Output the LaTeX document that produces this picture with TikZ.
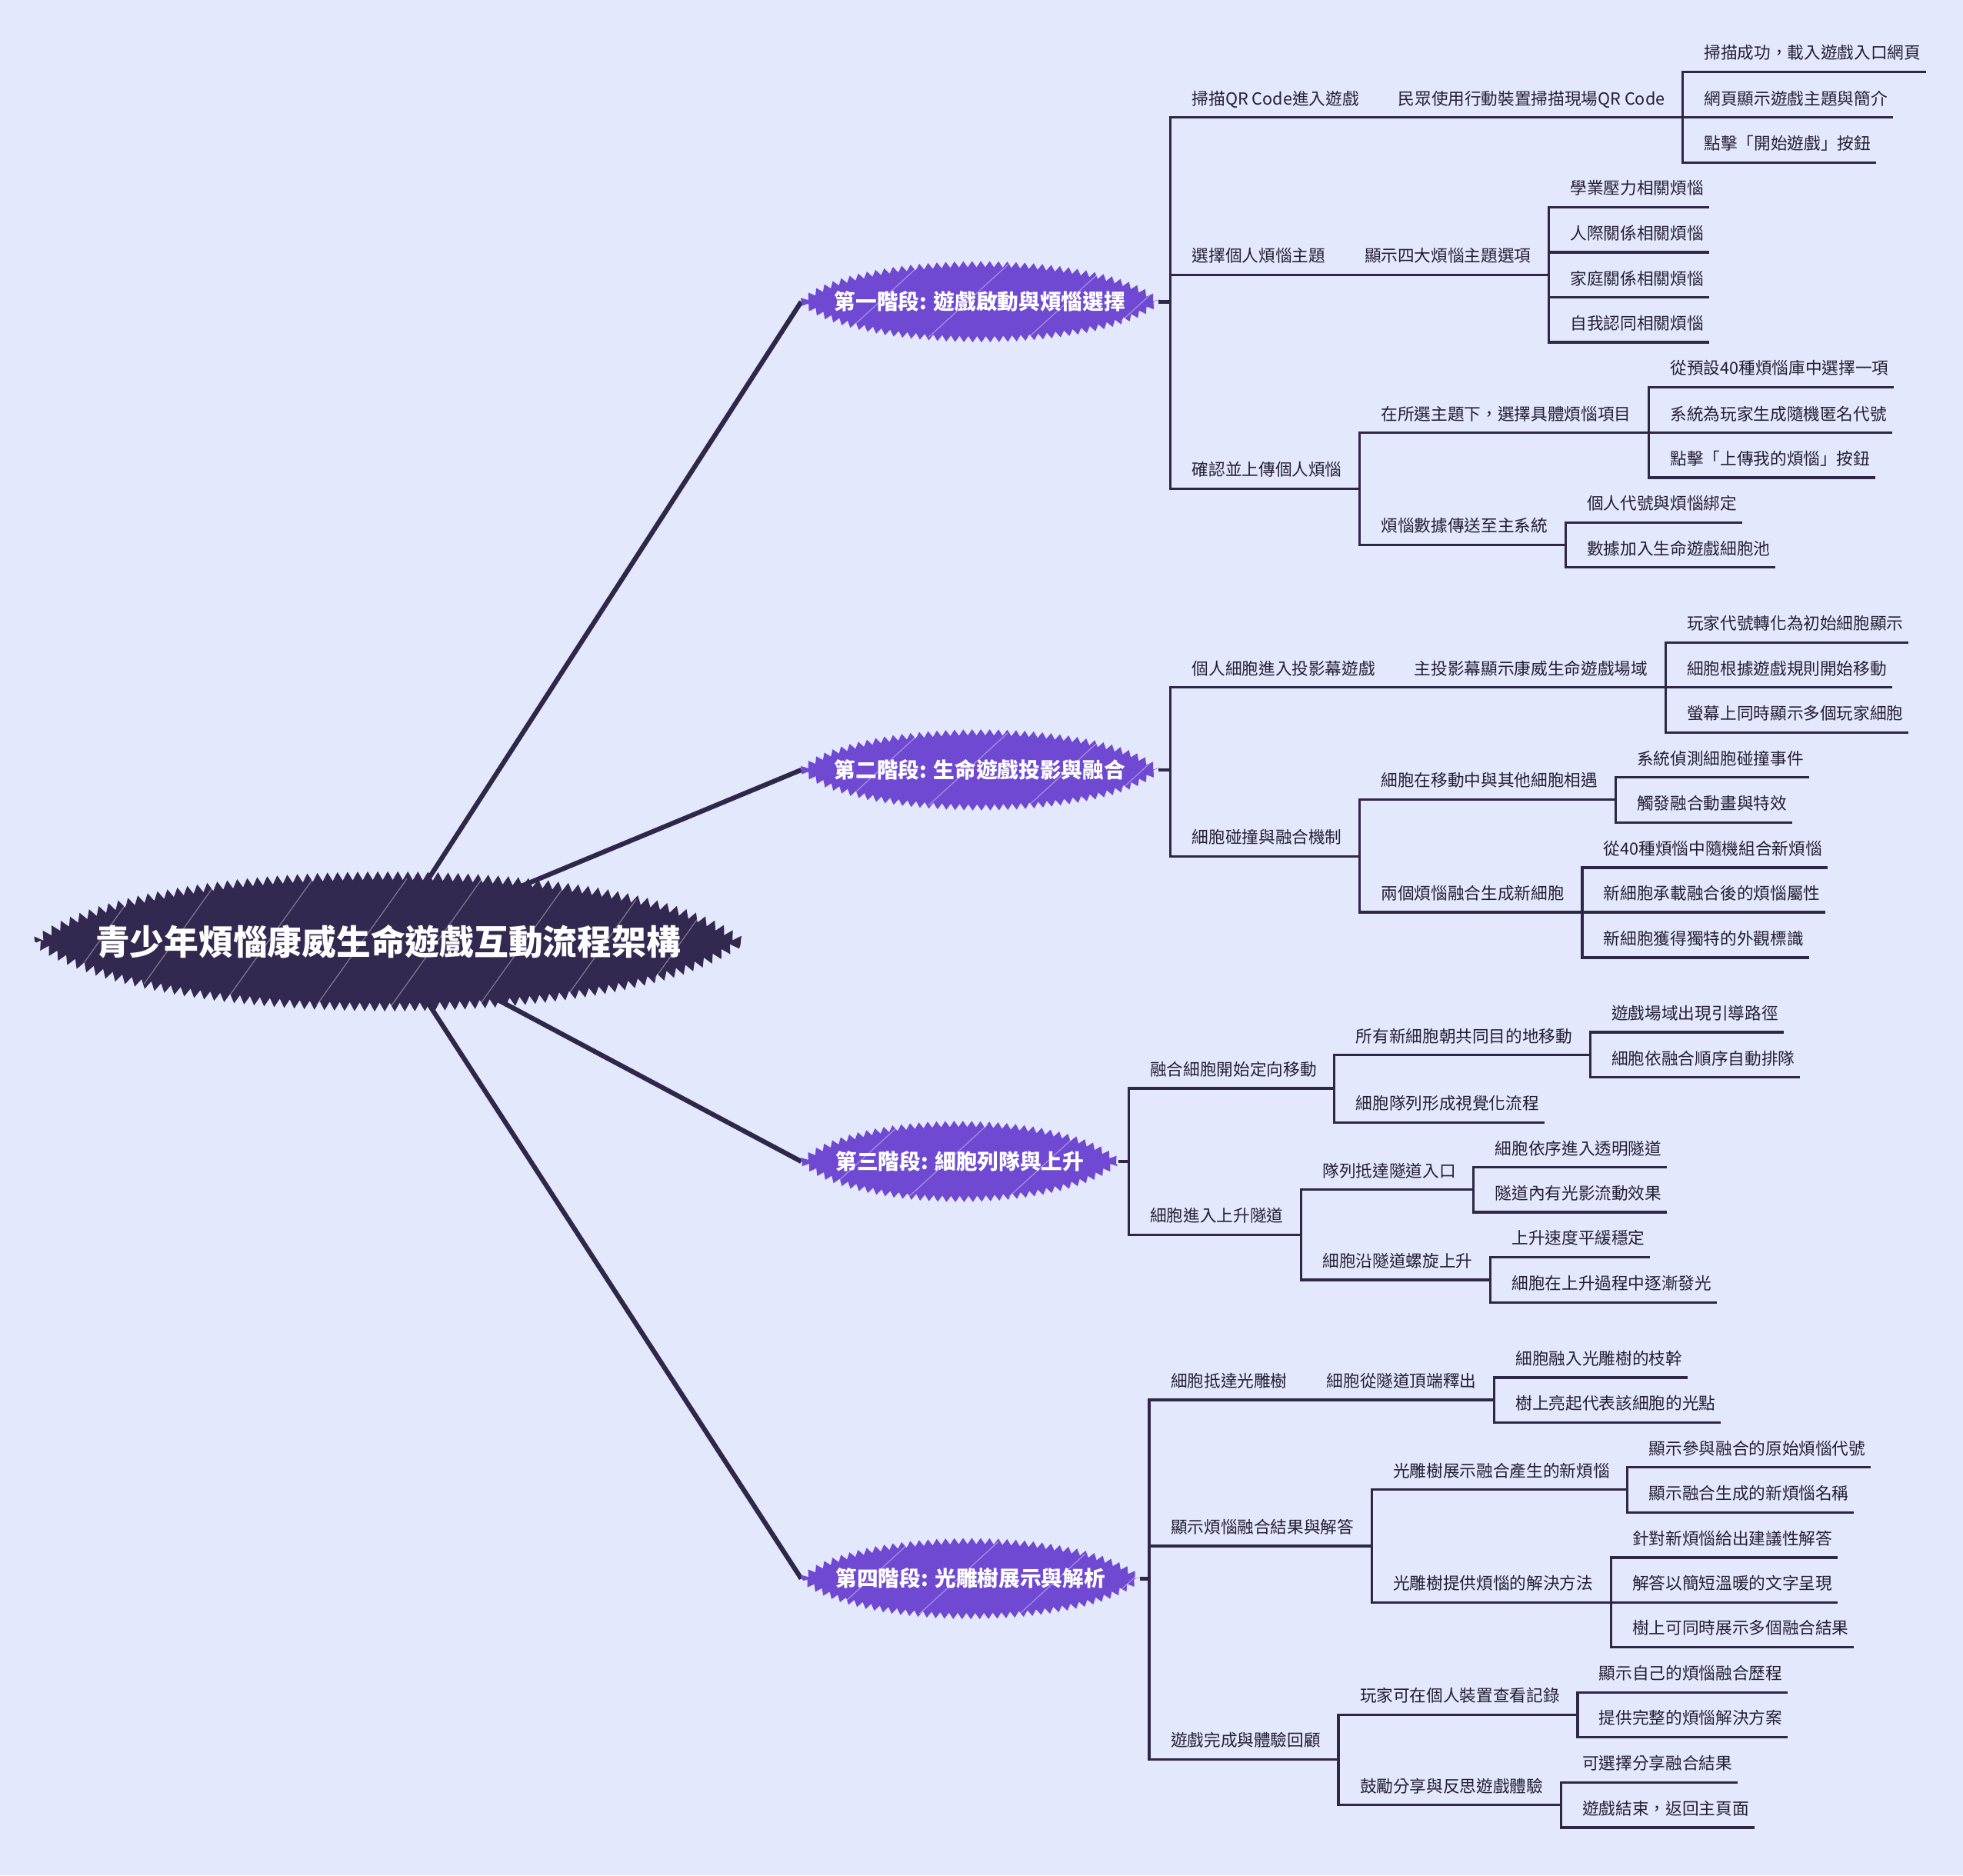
\documentclass[tikz,border=0pt]{standalone}
\usepackage{fontspec}
\newfontfamily\cjk{Noto Sans CJK TC}
\usetikzlibrary{calc,decorations.pathmorphing}
\pgfdeclarelayer{bg}
\pgfsetlayers{bg,main}
\definecolor{bgc}{HTML}{E4E8FC}
\definecolor{ink}{HTML}{2F2749}
\definecolor{txt}{HTML}{231F33}
\definecolor{vio}{HTML}{7049D2}
\definecolor{rootc}{HTML}{33284F}
\newcommand\lenspath[4]{(#1) .. controls ($(#1)+(#3,#4)$) and ($(#2)+(-#3,#4)$) .. (#2) .. controls ($(#2)+(-#3,-#4)$) and ($(#1)+(#3,-#4)$) .. (#1) -- cycle}
\tikzset{
  tl/.style={draw=ink,line width=2pt,line cap=rect},
  stub/.style={draw=ink,line width=3pt},
  lf/.style={font=\cjk\fontsize{13.3}{16}\selectfont, text=txt, anchor=south west, inner sep=0pt, text height=11pt, text depth=10pt, execute at begin node={\hspace*{17pt}}, execute at end node={\hspace*{3pt}}},
  mid/.style={lf, execute at end node={\hspace*{11pt}}},
  stg/.style={font=\cjk\bfseries\fontsize{17}{20}\selectfont, text=white, anchor=west, inner sep=0pt, minimum height=40pt},
  rootn/.style={font=\cjk\bfseries\fontsize{27.5}{32}\selectfont, text=white, inner sep=0pt, minimum width=564pt, minimum height=80pt},
  spoke/.style={draw=ink,line width=3.8pt},
  zz/.style={decorate, decoration={zigzag,segment length=7pt,amplitude=2.5pt}},
  zzr/.style={decorate, decoration={zigzag,segment length=8pt,amplitude=3.5pt}},
  scr/.style={draw=white,opacity=.4,line width=.7pt},
}
\begin{document}
\begin{tikzpicture}[x=1pt,y=-1pt]
\useasboundingbox (0,0) rectangle (1568,1498);
% ---------- root and stages
\node[rootn] (root) at (310,752) {青少年煩惱康威生命遊戲互動流程架構};
\node[stg, minimum width=285pt] (s1) at (640,241) {第一階段: 遊戲啟動與煩惱選擇};
\node[stg, minimum width=285pt] (s2) at (640,615) {第二階段: 生命遊戲投影與融合};
\node[stg, minimum width=253pt] (s3) at (640,927.8) {第三階段: 細胞列隊與上升};
\node[stg, minimum width=270pt] (s4) at (640,1261) {第四階段: 光雕樹展示與解析};

\begin{pgfonlayer}{bg}
  \fill[bgc] (0,0) rectangle (1568,1498);
  \foreach \s in {s1,s2,s3,s4} \draw[spoke] (root.center) -- (\s.west);
  \fill[rootc,zzr] \lenspath{root.west}{root.east}{90pt}{70pt};
  \begin{scope}
    \clip \lenspath{root.west}{root.east}{90pt}{70pt};
    \foreach \dx in {-230,-170,-95,-20,40,110,175,235}
      \draw[scr] ($(root.center)+(\dx pt-40pt,-55pt)$) -- ++(75pt,105pt);
  \end{scope}
  \foreach \s in {s1,s2,s3,s4} {
    \fill[vio,zz] \lenspath{\s.west}{\s.east}{45pt}{40pt};
    \begin{scope}
      \clip \lenspath{\s.west}{\s.east}{45pt}{40pt};
      \foreach \dx in {-90,-20,60,120}
        \draw[scr] ($(\s.center)+(\dx pt-25pt,-32pt)$) -- ++(70pt,64pt);
    \end{scope}
  }
\end{pgfonlayer}

% ---------- stage 1
\node[mid] (a1) at (935,93.8) {掃描QR Code進入遊戲};
\node[mid] (a11) at (a1.south east) {民眾使用行動裝置掃描現場QR Code};
\node[lf] (a111) at (a11.south east|-0,57.4) {掃描成功，載入遊戲入口網頁};
\node[lf] (a112) at (a11.south east|-0,93.8) {網頁顯示遊戲主題與簡介};
\node[lf] (a113) at (a11.south east|-0,130) {點擊「開始遊戲」按鈕};
\node[mid] (a2) at (935,219.6) {選擇個人煩惱主題};
\node[mid] (a21) at (a2.south east) {顯示四大煩惱主題選項};
\node[lf] (a211) at (a21.south east|-0,165.4) {學業壓力相關煩惱};
\node[lf] (a212) at (a21.south east|-0,201.6) {人際關係相關煩惱};
\node[lf] (a213) at (a21.south east|-0,237.6) {家庭關係相關煩惱};
\node[lf] (a214) at (a21.south east|-0,273.4) {自我認同相關煩惱};
\node[mid] (a3) at (935,390.5) {確認並上傳個人煩惱};
\node[mid] (a31) at (a3.south east|-0,345.7) {在所選主題下，選擇具體煩惱項目};
\node[lf] (a311) at (a31.south east|-0,309.3) {從預設40種煩惱庫中選擇一項};
\node[lf] (a312) at (a31.south east|-0,345.7) {系統為玩家生成隨機匿名代號};
\node[lf] (a313) at (a31.south east|-0,381.5) {點擊「上傳我的煩惱」按鈕};
\node[mid] (a32) at (a3.south east|-0,435.2) {煩惱數據傳送至主系統};
\node[lf] (a321) at (a32.south east|-0,417.4) {個人代號與煩惱綁定};
\node[lf] (a322) at (a32.south east|-0,453.2) {數據加入生命遊戲細胞池};

% ---------- stage 2
\node[mid] (b1) at (935,549.1) {個人細胞進入投影幕遊戲};
\node[mid] (b11) at (b1.south east) {主投影幕顯示康威生命遊戲場域};
\node[lf] (b111) at (b11.south east|-0,513.2) {玩家代號轉化為初始細胞顯示};
\node[lf] (b112) at (b11.south east|-0,549.1) {細胞根據遊戲規則開始移動};
\node[lf] (b113) at (b11.south east|-0,585.1) {螢幕上同時顯示多個玩家細胞};
\node[mid] (b2) at (935,684) {細胞碰撞與融合機制};
\node[mid] (b21) at (b2.south east|-0,638.6) {細胞在移動中與其他細胞相遇};
\node[lf] (b211) at (b21.south east|-0,621) {系統偵測細胞碰撞事件};
\node[lf] (b212) at (b21.south east|-0,657) {觸發融合動畫與特效};
\node[mid] (b22) at (b2.south east|-0,728.7) {兩個煩惱融合生成新細胞};
\node[lf] (b221) at (b22.south east|-0,693) {從40種煩惱中隨機組合新煩惱};
\node[lf] (b222) at (b22.south east|-0,728.7) {新細胞承載融合後的煩惱屬性};
\node[lf] (b223) at (b22.south east|-0,765) {新細胞獲得獨特的外觀標識};

% ---------- stage 3
\node[mid] (c1) at (901.5,869.4) {融合細胞開始定向移動};
\node[mid] (c11) at (c1.south east|-0,842.8) {所有新細胞朝共同目的地移動};
\node[lf] (c111) at (c11.south east|-0,824.5) {遊戲場域出現引導路徑};
\node[lf] (c112) at (c11.south east|-0,860.6) {細胞依融合順序自動排隊};
\node[lf] (c12) at (c1.south east|-0,896.6) {細胞隊列形成視覺化流程};
\node[mid] (c2) at (901.5,986.5) {細胞進入上升隧道};
\node[mid] (c21) at (c2.south east|-0,950.3) {隊列抵達隧道入口};
\node[lf] (c211) at (c21.south east|-0,932.5) {細胞依序進入透明隧道};
\node[lf] (c212) at (c21.south east|-0,968.3) {隧道內有光影流動效果};
\node[mid] (c22) at (c2.south east|-0,1022.4) {細胞沿隧道螺旋上升};
\node[lf] (c221) at (c22.south east|-0,1004.1) {上升速度平緩穩定};
\node[lf] (c222) at (c22.south east|-0,1040.4) {細胞在上升過程中逐漸發光};

% ---------- stage 4
\node[mid] (d1) at (918,1118.2) {細胞抵達光雕樹};
\node[mid] (d11) at (d1.south east) {細胞從隧道頂端釋出};
\node[lf] (d111) at (d11.south east|-0,1100.4) {細胞融入光雕樹的枝幹};
\node[lf] (d112) at (d11.south east|-0,1136.2) {樹上亮起代表該細胞的光點};
\node[mid] (d2) at (918,1235) {顯示煩惱融合結果與解答};
\node[mid] (d21) at (d2.south east|-0,1189.9) {光雕樹展示融合產生的新煩惱};
\node[lf] (d211) at (d21.south east|-0,1172.1) {顯示參與融合的原始煩惱代號};
\node[lf] (d212) at (d21.south east|-0,1208.3) {顯示融合生成的新煩惱名稱};
\node[mid] (d22) at (d2.south east|-0,1280) {光雕樹提供煩惱的解決方法};
\node[lf] (d221) at (d22.south east|-0,1244.2) {針對新煩惱給出建議性解答};
\node[lf] (d222) at (d22.south east|-0,1280) {解答以簡短溫暖的文字呈現};
\node[lf] (d223) at (d22.south east|-0,1315.8) {樹上可同時展示多個融合結果};
\node[mid] (d3) at (918,1405.5) {遊戲完成與體驗回顧};
\node[mid] (d31) at (d3.south east|-0,1369.7) {玩家可在個人裝置查看記錄};
\node[lf] (d311) at (d31.south east|-0,1351.9) {顯示自己的煩惱融合歷程};
\node[lf] (d312) at (d31.south east|-0,1387.7) {提供完整的煩惱解決方案};
\node[mid] (d32) at (d3.south east|-0,1441.8) {鼓勵分享與反思遊戲體驗};
\node[lf] (d321) at (d32.south east|-0,1423.7) {可選擇分享融合結果};
\node[lf] (d322) at (d32.south east|-0,1459.8) {遊戲結束，返回主頁面};

% ---------- stubs from stages to their bars
\draw[stub] (s1.east) -- (a1.south west|-s1.east);
\draw[stub] (s2.east) -- (b1.south west|-s2.east);
\draw[stub] (s3.east) -- (c1.south west|-s3.east);
\draw[stub] (s4.east) -- (d1.south west|-s4.east);

% ---------- underlines
\foreach \n in {a1,a11,a111,a112,a113,a2,a21,a211,a212,a213,a214,a3,a31,a311,a312,a313,a32,a321,a322,
  b1,b11,b111,b112,b113,b2,b21,b211,b212,b22,b221,b222,b223,
  c1,c11,c111,c112,c12,c2,c21,c211,c212,c22,c221,c222,
  d1,d11,d111,d112,d2,d21,d211,d212,d22,d221,d222,d223,d3,d31,d311,d312,d32,d321,d322}
  \draw[tl] (\n.south west) -- (\n.south east);

% ---------- vertical bars
\foreach \p/\q in {a1/a3,a111/a113,a211/a214,a31/a32,a311/a313,a321/a322,
  b1/b2,b111/b113,b21/b22,b211/b212,b221/b223,
  c1/c2,c11/c12,c111/c112,c21/c22,c211/c212,c221/c222,
  d1/d3,d111/d112,d21/d22,d211/d212,d221/d223,d31/d32,d311/d312,d321/d322}
  \draw[tl] (\p.south west) -- (\q.south west);
\end{tikzpicture}
\end{document}
